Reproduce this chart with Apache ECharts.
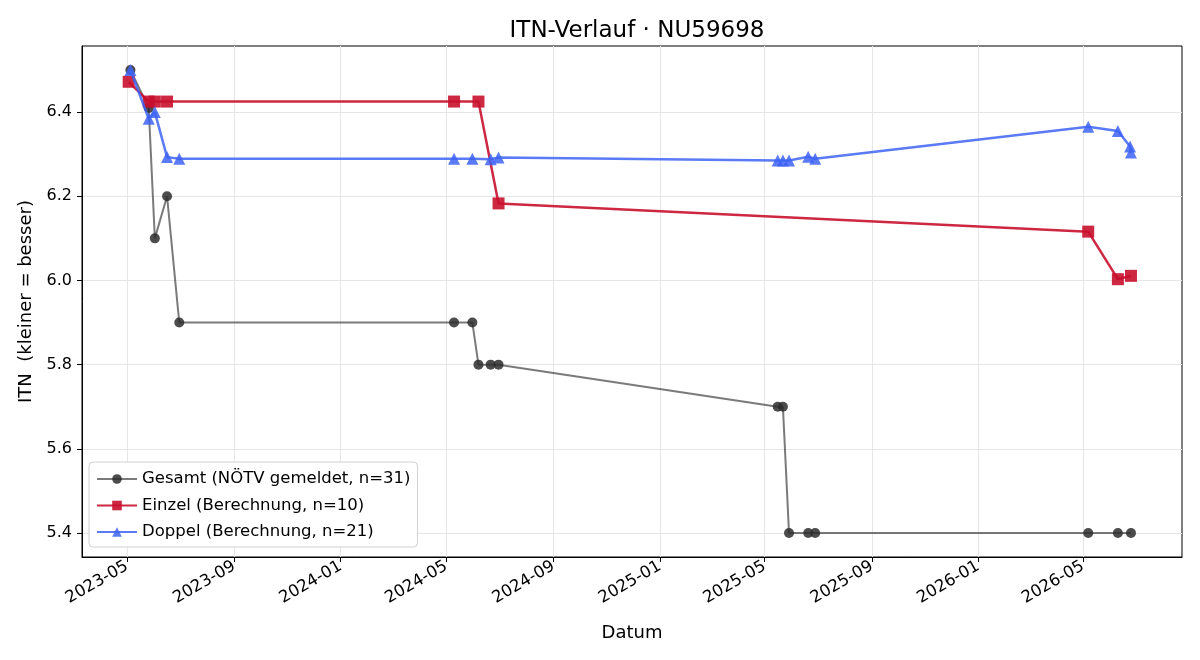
<!DOCTYPE html>
<html>
<head>
<meta charset="utf-8">
<title>ITN-Verlauf</title>
<script src="https://cdn.jsdelivr.net/npm/echarts@6/dist/echarts.min.js"></script>
<style>
  html, body { margin: 0; padding: 0; background: #fff; }
  #chart { width: 1200px; height: 660px; }
</style>
</head>
<body>
<div id="chart"></div>
<script>
// Gesamt (NÖTV gemeldet)
var gesamtDates = ['2023-05-05','2023-05-26','2023-06-02','2023-06-16','2023-06-30',
  '2024-05-10','2024-05-31','2024-06-07','2024-06-21','2024-06-30',
  '2025-05-16','2025-05-22','2025-05-29','2025-06-20','2025-06-28',
  '2026-05-07','2026-06-10','2026-06-25'];
var gesamtValues = [6.5, 6.41, 6.1, 6.2, 5.9,
  5.9, 5.9, 5.8, 5.8, 5.8,
  5.7, 5.7, 5.4, 5.4, 5.4,
  5.4, 5.4, 5.4];

// Einzel (Berechnung)
var einzelDates = ['2023-05-03','2023-05-26','2023-06-02','2023-06-16',
  '2024-05-10','2024-06-07','2024-06-30',
  '2026-05-07','2026-06-10','2026-06-25'];
var einzelValues = [6.472, 6.425, 6.425, 6.425,
  6.425, 6.425, 6.183,
  6.116, 6.003, 6.011];

// Doppel (Berechnung)
var doppelDates = ['2023-05-05','2023-05-26','2023-06-02','2023-06-16','2023-06-30',
  '2024-05-10','2024-05-31','2024-06-21','2024-06-30',
  '2025-05-16','2025-05-22','2025-05-29','2025-06-20','2025-06-28',
  '2026-05-07','2026-06-10','2026-06-24','2026-06-25'];
var doppelValues = [6.5, 6.384, 6.40, 6.293, 6.289,
  6.289, 6.289, 6.288, 6.292,
  6.285, 6.285, 6.285, 6.294, 6.289,
  6.365, 6.355, 6.318, 6.304];

var xTickLabels = ['2023-05','2023-09','2024-01','2024-05','2024-09','2025-01','2025-05','2025-09','2026-01','2026-05'];
var yTicks = [5.4, 5.6, 5.8, 6.0, 6.2, 6.4];

var FONT = 'DejaVu Sans';

function ts(s) { return new Date(s + 'T00:00:00').getTime(); }
function pairs(dates, values) {
  return dates.map(function (d, i) { return [ts(d), values[i]]; });
}
var xTickValues = xTickLabels.map(function (s) { return ts(s + '-01'); });

var myChart = echarts.init(document.getElementById('chart'), null, { renderer: 'canvas' });

var option = {
  animation: false,
  backgroundColor: '#fff',
  textStyle: { fontFamily: FONT },
  title: {
    text: 'ITN-Verlauf · NU59698',
    left: 632,
    textAlign: 'center',
    top: 15,
    textStyle: { fontFamily: FONT, fontSize: 23, fontWeight: 'normal', color: '#000' }
  },
  grid: {
    left: 82, right: 18, top: 46, bottom: 103,
    show: true, borderColor: '#000', borderWidth: 1, backgroundColor: 'transparent'
  },
  legend: {
    orient: 'vertical',
    left: 89, top: 462,
    padding: [8, 7, 6, 7],
    itemGap: 8.5,
    itemWidth: 40, itemHeight: 12,
    backgroundColor: '#fff',
    borderColor: '#d0d0d0', borderWidth: 1, borderRadius: 4,
    textStyle: { fontFamily: FONT, fontSize: 16.5, lineHeight: 18, color: '#000' },
    data: ['Gesamt (NÖTV gemeldet, n=31)', 'Einzel (Berechnung, n=10)', 'Doppel (Berechnung, n=21)']
  },
  xAxis: {
    type: 'value',
    min: new Date('2023-03-10T12:00:00').getTime(),
    max: new Date('2026-08-22T12:00:00').getTime(),
    name: 'Datum',
    nameLocation: 'middle',
    nameGap: 67,
    nameTextStyle: { fontFamily: FONT, fontSize: 18, color: '#000' },
    axisLine: { show: true, lineStyle: { color: '#000', width: 1 } },
    axisTick: { show: true, inside: false, length: 5, lineStyle: { color: '#000' }, customValues: xTickValues },
    axisLabel: {
      customValues: xTickValues,
      rotate: 30,
      margin: 8,
      fontFamily: FONT, fontSize: 16.5, color: '#000',
      formatter: function (v) {
        var i = xTickValues.indexOf(v);
        return i >= 0 ? xTickLabels[i] : '';
      }
    },
    splitLine: { show: true, lineStyle: { color: '#e6e6e6', width: 1 } }
  },
  yAxis: {
    type: 'value',
    min: 5.343,
    max: 6.557,
    name: 'ITN  (kleiner = besser)',
    nameLocation: 'middle',
    nameGap: 47,
    nameTextStyle: { fontFamily: FONT, fontSize: 18, color: '#000' },
    axisLine: { show: true, lineStyle: { color: '#000', width: 1 } },
    axisTick: { show: true, inside: false, length: 5, lineStyle: { color: '#000' }, customValues: yTicks },
    axisLabel: {
      customValues: yTicks,
      margin: 10,
      fontFamily: FONT, fontSize: 16, color: '#000',
      formatter: function (v) { return v.toFixed(1); }
    },
    splitLine: { show: true, lineStyle: { color: '#e6e6e6', width: 1 } }
  },
  series: [
    {
      name: 'Gesamt (NÖTV gemeldet, n=31)',
      type: 'line',
      data: pairs(gesamtDates, gesamtValues),
      symbol: 'circle',
      symbolSize: 10,
      z: 2,
      lineStyle: { color: 'rgba(51,51,51,0.65)', width: 2 },
      itemStyle: { color: 'rgba(45,45,45,0.85)', borderWidth: 0 }
    },
    {
      name: 'Einzel (Berechnung, n=10)',
      type: 'line',
      data: pairs(einzelDates, einzelValues),
      symbol: 'rect',
      symbolSize: 12,
      z: 3,
      lineStyle: { color: 'rgba(200,16,46,0.9)', width: 2.5 },
      itemStyle: { color: 'rgba(200,16,46,0.9)', borderWidth: 0 }
    },
    {
      name: 'Doppel (Berechnung, n=21)',
      type: 'line',
      data: pairs(doppelDates, doppelValues),
      symbol: 'triangle',
      symbolSize: 12,
      z: 4,
      lineStyle: { color: 'rgba(61,99,245,0.85)', width: 2.5 },
      itemStyle: { color: 'rgba(61,99,245,0.85)', borderWidth: 0 }
    }
  ]
};

myChart.setOption(option);
window.addEventListener('resize', function () { myChart.resize(); });
</script>
</body>
</html>
